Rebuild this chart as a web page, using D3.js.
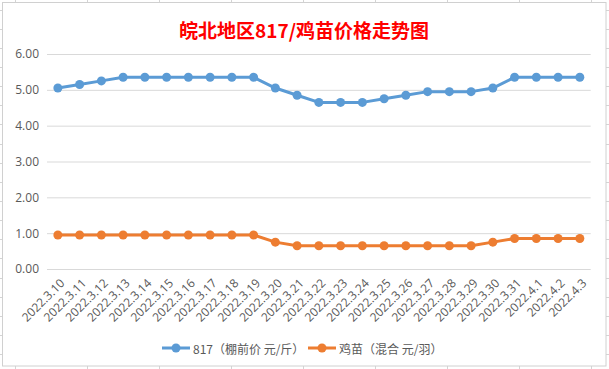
<!DOCTYPE html>
<html><head><meta charset="utf-8">
<script src="https://cdn.jsdelivr.net/npm/d3@7"></script>
<style>
html,body{margin:0;padding:0;background:#fff;}
svg{display:block;font-family:"Microsoft YaHei","Noto Sans CJK SC","Noto Sans",sans-serif;}
</style></head>
<body>
<svg id="c" width="609" height="369"></svg>
<script>
const title = "皖北地区817/鸡苗价格走势图";
const categories = ["2022.3.10","2022.3.11","2022.3.12","2022.3.13","2022.3.14","2022.3.15","2022.3.16","2022.3.17","2022.3.18","2022.3.19","2022.3.20","2022.3.21","2022.3.22","2022.3.23","2022.3.24","2022.3.25","2022.3.26","2022.3.27","2022.3.28","2022.3.29","2022.3.30","2022.3.31","2022.4.1","2022.4.2","2022.4.3"];
const series817 = [5.05,5.15,5.25,5.35,5.35,5.35,5.35,5.35,5.35,5.35,5.05,4.85,4.65,4.65,4.65,4.75,4.85,4.95,4.95,4.95,5.05,5.35,5.35,5.35,5.35];
const seriesChick = [0.95,0.95,0.95,0.95,0.95,0.95,0.95,0.95,0.95,0.95,0.75,0.65,0.65,0.65,0.65,0.65,0.65,0.65,0.65,0.65,0.75,0.85,0.85,0.85,0.85];
const seriesNames = ["817（棚前价 元/斤）","鸡苗（混合 元/羽）"];
const colors = ["#5b9bd5","#ed7d31"];
const yTicks = [0,1,2,3,4,5,6];

const svg = d3.select("#c");
const W = 609, H = 369;

// spreadsheet grid fragments outside the chart box
const grid = svg.append("g").attr("stroke","#d4d4d4").attr("stroke-width",1);
for (let x = 15.5; x < W; x += 72) {
  grid.append("line").attr("x1",x).attr("x2",x).attr("y1",0).attr("y2",2.5);
  grid.append("line").attr("x1",x).attr("x2",x).attr("y1",366).attr("y2",H);
}
for (let y = 9.5; y < H; y += 19.15) {
  const yy = Math.round(y)+0.5;
  grid.append("line").attr("x1",0).attr("x2",2.5).attr("y1",yy).attr("y2",yy);
  grid.append("line").attr("x1",606).attr("x2",W).attr("y1",yy).attr("y2",yy);
}

// chart box
svg.append("rect").attr("x",2.5).attr("y",2.5).attr("width",603.5).attr("height",363.5)
  .attr("fill","#fff").attr("stroke","#d0d0d0").attr("stroke-width",1);

// title
svg.append("text").attr("x",304).attr("y",29).attr("text-anchor","middle")
  .attr("dominant-baseline","central")
  .attr("fill","#ff0000").attr("font-size",19).attr("font-weight","bold")
  .text(title);

const x = d3.scalePoint().domain(categories).range([47,590.7]).padding(0.5);
const y = d3.scaleLinear().domain([0,6]).range([269,54]);

// gridlines + y labels
const yAxis = d3.axisLeft(y).tickValues(yTicks).tickSize(-(590.7-47)).tickFormat(d3.format(".2f")).tickPadding(8);
const gy = svg.append("g").attr("transform","translate(47,0)").call(yAxis);
gy.select(".domain").remove();
gy.selectAll(".tick line").attr("stroke","#d9d9d9").attr("stroke-width",1);
gy.selectAll(".tick text").attr("fill","#595959").attr("font-size",12)
  .attr("font-family","'Open Sans','Noto Sans',sans-serif");

// x labels
const xAxis = d3.axisBottom(x).tickSize(0).tickPadding(0);
const gx = svg.append("g").attr("transform","translate(0,269)").call(xAxis);
gx.select(".domain").remove();
gx.selectAll(".tick text")
  .attr("fill","#595959").attr("font-size",12)
  .attr("font-family","'Open Sans','Noto Sans',sans-serif")
  .attr("text-anchor","end").attr("dy",0)
  .attr("transform","translate(7,15) rotate(-45)");

// series
const data = [series817, seriesChick];
data.forEach((vals,i) => {
  const pts = vals.map((v,j) => [x(categories[j]), y(v)]);
  svg.append("path").attr("d", d3.line()(pts)).attr("fill","none")
    .attr("stroke",colors[i]).attr("stroke-width",3).attr("stroke-linejoin","round");
  svg.append("g").selectAll("circle").data(pts).join("circle")
    .attr("cx",d=>d[0]).attr("cy",d=>d[1]).attr("r",4.5).attr("fill",colors[i]);
});

// legend
const legendItems = [{x:162, name:seriesNames[0], c:colors[0]},{x:308, name:seriesNames[1], c:colors[1]}];
const lg = svg.append("g");
legendItems.forEach(it => {
  const ly = 348;
  lg.append("line").attr("x1",it.x).attr("x2",it.x+28).attr("y1",ly).attr("y2",ly)
    .attr("stroke",it.c).attr("stroke-width",3);
  lg.append("circle").attr("cx",it.x+14).attr("cy",ly).attr("r",4.5).attr("fill",it.c);
  lg.append("text").attr("x",it.x+31).attr("y",ly).attr("dominant-baseline","central")
    .attr("fill","#595959").attr("font-size",12).text(it.name);
});
</script>
</body></html>
